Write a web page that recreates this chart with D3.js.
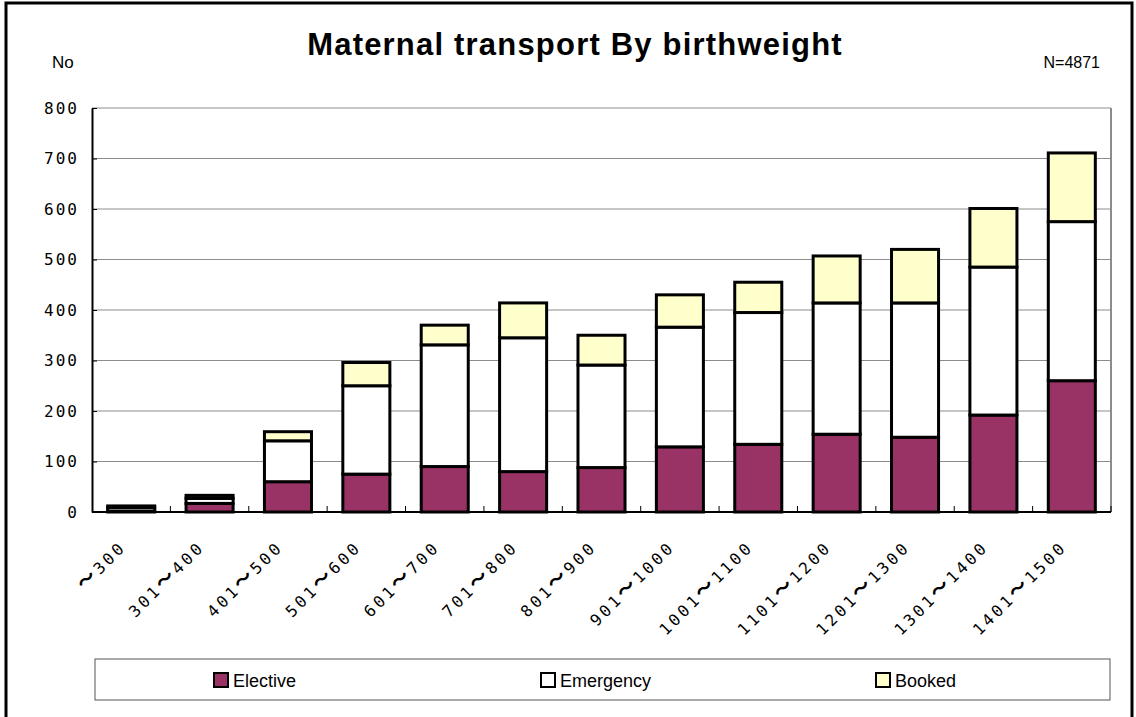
<!DOCTYPE html>
<html lang="en">
  <head>
    <meta charset="utf-8">
    <title>Maternal transport By birthweight</title>
    <script src="https://d3js.org/d3.v7.min.js"></script>
    <style>
      body { margin: 0; background: #fff; }
      svg text { fill: #000; }
    </style>
  </head>
  <body>
    <svg id="chart" width="1136" height="717"></svg>

  <script>
    // values
    const lower = ["", "301", "401", "501", "601", "701", "801", "901", "1001", "1101", "1201", "1301", "1401"];
    const upper = ["300", "400", "500", "600", "700", "800", "900", "1000", "1100", "1200", "1300", "1400", "1500"];
    const categories = lower.map((l, i) => l + "〜" + upper[i]);
    const elective  = [2, 17, 60, 75, 90, 80, 88, 129, 134, 154, 148, 192, 260];
    const emergency = [7, 10, 81, 175, 241, 265, 203, 237, 261, 260, 266, 293, 315];
    const booked    = [3, 6, 18, 46, 39, 69, 59, 64, 60, 93, 106, 116, 136];
    const seriesNames = ["Elective", "Emergency", "Booked"];
    const yTicks = [0, 100, 200, 300, 400, 500, 600, 700, 800];

    const colors = { Elective: "#993366", Emergency: "#ffffff", Booked: "#ffffcc" };

    let margin = { top: 108, right: 25, bottom: 205, left: 92 };
    let width = 1136, height = 717;

    let svg = d3.select("#chart");

    // outer frame
    svg.append("rect")
      .attr("x", 6).attr("y", 3)
      .attr("width", 1126).attr("height", 730)
      .style("fill", "none")
      .style("stroke", "#000")
      .style("stroke-width", "3px");

    let table = categories.map((c, i) => ({
      cat: c, Elective: elective[i], Emergency: emergency[i], Booked: booked[i]
    }));
    let stacked = d3.stack().keys(seriesNames)(table);

    let x = d3.scaleBand()
      .domain(categories)
      .range([margin.left, width - margin.right])
      .paddingInner(0.4)
      .paddingOuter(0.2);

    let y = d3.scaleLinear()
      .domain([0, 800])
      .range([height - margin.bottom, margin.top]);

    // gridlines
    svg.append("g")
      .selectAll("line")
      .data(yTicks.filter(d => d > 0))
      .join("line")
      .attr("x1", margin.left).attr("x2", width - margin.right)
      .attr("y1", d => y(d)).attr("y2", d => y(d))
      .style("stroke", "#8c8c8c")
      .style("stroke-width", "1px");

    // right border of plot
    svg.append("line")
      .attr("x1", width - margin.right).attr("x2", width - margin.right)
      .attr("y1", margin.top).attr("y2", y(0))
      .style("stroke", "#8c8c8c")
      .style("stroke-width", "2px");

    // y axis (ticks point inward)
    let yAxis = svg.append("g")
      .attr("transform", `translate(${margin.left},0)`)
      .call(d3.axisLeft(y).tickValues(yTicks).tickSizeInner(-5).tickSizeOuter(0).tickPadding(13));
    yAxis.select(".domain").style("stroke", "#000").style("stroke-width", "2px");
    yAxis.selectAll(".tick line").style("stroke", "#000");
    yAxis.selectAll("text")
      .style("font-family", "'DejaVu Sans Mono', monospace")
      .style("font-size", "16px")
      .style("letter-spacing", "2px");

    // bars
    svg.append("g")
      .selectAll("g")
      .data(stacked)
      .join("g")
      .style("fill", d => colors[d.key])
      .selectAll("rect")
      .data(d => d)
      .join("rect")
      .attr("x", d => x(d.data.cat))
      .attr("width", x.bandwidth())
      .attr("y", d => y(d[1]))
      .attr("height", d => y(d[0]) - y(d[1]))
      .style("stroke", "#000")
      .style("stroke-width", "3px");

    // x axis
    let xAxis = svg.append("g")
      .attr("transform", `translate(0,${y(0)})`);
    xAxis.append("line")
      .attr("x1", margin.left).attr("x2", width - margin.right)
      .style("stroke", "#000").style("stroke-width", "2px");
    xAxis.selectAll(".tk")
      .data(d3.range(1, categories.length + 1))
      .join("line")
      .attr("class", "tk")
      .attr("x1", i => margin.left + i * x.step())
      .attr("x2", i => margin.left + i * x.step())
      .attr("y1", 0).attr("y2", -6)
      .style("stroke", "#000").style("stroke-width", "1px");

    let labels = xAxis.selectAll(".lbl")
      .data(categories.map((c, i) => ({ cat: c, lo: lower[i], hi: upper[i] })))
      .join("text")
      .attr("class", "lbl")
      .attr("transform", d => `translate(${x(d.cat) + x.bandwidth() / 2 - 4},${36}) rotate(-45)`)
      .attr("text-anchor", "end")
      .style("font-family", "'DejaVu Sans Mono', monospace")
      .style("font-size", "16px")
      .style("letter-spacing", "3.2px");
    labels.append("tspan").text(d => d.lo);
    labels.append("tspan")
      .style("font-family", "'Noto Sans CJK JP', sans-serif")
      .style("font-weight", "bold")
      .style("font-size", "19px")
      .text("〜");
    labels.append("tspan").text(d => d.hi);

    // titles
    svg.append("text")
      .attr("x", 575).attr("y", 55)
      .attr("text-anchor", "middle")
      .style("font-family", "'Liberation Sans', Arial, sans-serif")
      .style("font-size", "31px")
      .style("font-weight", "bold")
      .style("letter-spacing", "1.2px")
      .text("Maternal transport By birthweight");

    svg.append("text")
      .attr("x", 52).attr("y", 68)
      .style("font-family", "'Liberation Sans', Arial, sans-serif")
      .style("font-size", "17px")
      .text("No");

    svg.append("text")
      .attr("x", 1100).attr("y", 68)
      .attr("text-anchor", "end")
      .style("font-family", "'Liberation Sans', Arial, sans-serif")
      .style("font-size", "16px")
      .text("N=4871");

    // legend
    let legend = svg.append("g");
    legend.append("rect")
      .attr("x", 95).attr("y", 659)
      .attr("width", 1015).attr("height", 41)
      .style("fill", "#fff")
      .style("stroke", "#555")
      .style("stroke-width", "1px");

    let legendX = [214, 541, 876];
    let item = legend.selectAll(".item")
      .data(seriesNames)
      .join("g")
      .attr("class", "item")
      .attr("transform", (d, i) => `translate(${legendX[i]},673)`);
    item.append("rect")
      .attr("width", 14).attr("height", 14)
      .style("fill", d => colors[d])
      .style("stroke", "#000")
      .style("stroke-width", "2px");
    item.append("text")
      .attr("x", 19).attr("y", 14)
      .style("font-family", "'Liberation Sans', Arial, sans-serif")
      .style("font-size", "18px")
      .text(d => d);
  </script>
  </body>
</html>
